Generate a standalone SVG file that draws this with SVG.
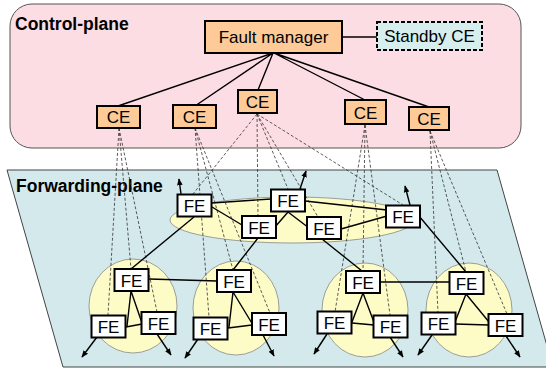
<svg xmlns="http://www.w3.org/2000/svg" width="546" height="370" viewBox="0 0 546 370">
  <defs>
    <marker id="arrow" viewBox="0 0 10 10" refX="9" refY="5" markerWidth="7" markerHeight="7" markerUnits="userSpaceOnUse" orient="auto">
      <path d="M0,1 L10,5 L0,9 z" fill="#000"/>
    </marker>
    <style>
      .plane-label { font-family: "Liberation Sans", Arial, sans-serif; font-weight: bold; font-size: 17.5px; fill: #000; }
      .label { font-family: "Liberation Sans", Arial, sans-serif; font-size: 17px; fill: #000; text-anchor: middle; }
      .ce rect { fill: #fdca98; stroke: #000; stroke-width: 2; }
      .fe rect { fill: #fff; stroke: #000; stroke-width: 2; }
      .zone { fill: #fdfbc6; stroke: #888; stroke-width: 0.8; }
      .link { stroke: #000; stroke-width: 1.4; fill: none; }
      .ctl { stroke: #333; stroke-width: 0.8; stroke-dasharray: 3 2; fill: none; }
      .out { stroke: #000; stroke-width: 1.4; fill: none; marker-end: url(#arrow); }
    </style>
  </defs>

  <!-- planes -->
  <g id="control-plane">
    <rect x="10" y="4" width="511" height="144" rx="22" fill="#fddde4" stroke="#555" stroke-width="1"/>
    <text class="plane-label" x="15" y="29.5">Control-plane</text>
  </g>
  <g id="forwarding-plane">
    <polygon points="7,170 497,170 553,367 63,367" fill="#d3e9ec" stroke="#444" stroke-width="1"/>
    <text class="plane-label" x="16" y="192">Forwarding-plane</text>
  </g>

  <!-- FE groupings -->
  <g id="zones">
    <ellipse class="zone" cx="292" cy="220" rx="122" ry="23"/>
    <ellipse class="zone" cx="133" cy="306" rx="44" ry="47"/>
    <ellipse class="zone" cx="236" cy="308" rx="43" ry="47"/>
    <ellipse class="zone" cx="365" cy="310" rx="43" ry="47"/>
    <ellipse class="zone" cx="469" cy="310" rx="43" ry="47"/>
  </g>

  <g id="connectors">
    <!-- control associations CE -> FE -->
    <path class="ctl" d="M119,128 L131,269 M119,128 L108,315 M119,128 L157,312"/>
    <path class="ctl" d="M195,128 L233,270 M195,128 L209,317 M195,128 L270,313"/>
    <path class="ctl" d="M257,114 L193,194 M257,114 L258,216 M257,114 L288,189 M257,114 L318,217 M257,114 L403,205"/>
    <path class="ctl" d="M365,125 L363,271 M365,125 L335,312 M365,125 L390,315"/>
    <path class="ctl" d="M430,131 L466,272 M430,131 L438,313 M430,131 L507,314"/>

    <!-- fault manager links -->
    <path class="link" d="M342,37 L377,37"/>
    <path class="link" d="M273,53 L118,106 M273,53 L195,106 M273,53 L258,90 M274,53 L365,100 M274,53 L429,107"/>

    <!-- central ring -->
    <path class="link" d="M212,203 L271,199 M212,207 L242,225 M288,212 L275,227 M288,212 L309,228 M305,201 L387,210 M341,229 L387,216"/>
    <!-- ring to clusters -->
    <path class="link" d="M194,217 L131,269 M258,238 L233,270 M322,239 L362,271 M419,216 L466,272"/>
    <!-- cluster internals -->
    <path class="link" d="M131,291 L127,326 M131,291 L142,323 M126,327 L142,324 M149,279 L217,281"/>
    <path class="link" d="M233,292 L229,327 M233,292 L253,325 M228,328 L252,325"/>
    <path class="link" d="M363,293 L352,322 M363,293 L375,325 M352,323 L374,325 M380,282 L450,282"/>
    <path class="link" d="M466,294 L455,322 M466,294 L489,322 M455,324 L489,325"/>

    <!-- external ports -->
    <path class="out" d="M181,194 L179,179"/>
    <path class="out" d="M300,189 L306,171"/>
    <path class="out" d="M410,205 L405,186"/>
    <path class="out" d="M97,337 L82,357"/>
    <path class="out" d="M157,334 L171,355"/>
    <path class="out" d="M198,339 L185,358"/>
    <path class="out" d="M263,335 L274,356"/>
    <path class="out" d="M327,334 L314,354"/>
    <path class="out" d="M390,337 L403,357"/>
    <path class="out" d="M432,335 L418,355"/>
    <path class="out" d="M506,336 L520,357"/>
  </g>

  <!-- control elements -->
  <g id="fault-manager" class="ce">
    <rect x="205" y="21" width="137" height="32"/>
    <text class="label" x="273.5" y="43">Fault manager</text>
  </g>
  <g id="standby-ce">
    <rect x="377" y="22" width="105" height="28" fill="#d6eeee" stroke="#000" stroke-width="2" stroke-dasharray="4 2"/>
    <text class="label" x="429.5" y="42">Standby CE</text>
  </g>
  <g id="ce1" class="ce"><rect x="97" y="106" width="43" height="22"/><text class="label" x="118.5" y="123">CE</text></g>
  <g id="ce2" class="ce"><rect x="173" y="105" width="43" height="23"/><text class="label" x="194.5" y="123">CE</text></g>
  <g id="ce3" class="ce"><rect x="238" y="90" width="39" height="23"/><text class="label" x="257.5" y="108">CE</text></g>
  <g id="ce4" class="ce"><rect x="345" y="100" width="41" height="24"/><text class="label" x="365.5" y="118.5">CE</text></g>
  <g id="ce5" class="ce"><rect x="409" y="107" width="40" height="23"/><text class="label" x="429" y="125">CE</text></g>

  <!-- forwarding elements: central ring -->
  <g id="fe-r1" class="fe"><rect x="177.5" y="194.5" width="34" height="22"/><text class="label" x="194.5" y="212">FE</text></g>
  <g id="fe-r2" class="fe"><rect x="271" y="189.5" width="34" height="22"/><text class="label" x="288" y="207">FE</text></g>
  <g id="fe-r3" class="fe"><rect x="242" y="216" width="34" height="22"/><text class="label" x="259" y="233.5">FE</text></g>
  <g id="fe-r4" class="fe"><rect x="307" y="217" width="34" height="22"/><text class="label" x="324" y="234.5">FE</text></g>
  <g id="fe-r5" class="fe"><rect x="386" y="205.5" width="34" height="22"/><text class="label" x="403" y="223">FE</text></g>

  <!-- forwarding elements: cluster 1 -->
  <g id="fe-a1" class="fe"><rect x="114.5" y="269" width="34" height="22"/><text class="label" x="131.5" y="286.5">FE</text></g>
  <g id="fe-a2" class="fe"><rect x="91.5" y="315.5" width="34" height="22"/><text class="label" x="108.5" y="333">FE</text></g>
  <g id="fe-a3" class="fe"><rect x="141.5" y="312" width="34" height="22"/><text class="label" x="158.5" y="329.5">FE</text></g>
  <!-- cluster 2 -->
  <g id="fe-b1" class="fe"><rect x="217" y="270" width="34" height="22"/><text class="label" x="234" y="287.5">FE</text></g>
  <g id="fe-b2" class="fe"><rect x="193.5" y="317.5" width="34" height="22"/><text class="label" x="210.5" y="335">FE</text></g>
  <g id="fe-b3" class="fe"><rect x="252" y="313" width="34" height="22"/><text class="label" x="269" y="330.5">FE</text></g>
  <!-- cluster 3 -->
  <g id="fe-c1" class="fe"><rect x="346" y="271" width="34" height="22"/><text class="label" x="363" y="288.5">FE</text></g>
  <g id="fe-c2" class="fe"><rect x="317.5" y="311.5" width="34" height="22"/><text class="label" x="334.5" y="329">FE</text></g>
  <g id="fe-c3" class="fe"><rect x="373.5" y="315.5" width="34" height="22"/><text class="label" x="390.5" y="333">FE</text></g>
  <!-- cluster 4 -->
  <g id="fe-d1" class="fe"><rect x="449.5" y="272" width="34" height="22"/><text class="label" x="466.5" y="289.5">FE</text></g>
  <g id="fe-d2" class="fe"><rect x="421.5" y="312.5" width="34" height="22"/><text class="label" x="438.5" y="330">FE</text></g>
  <g id="fe-d3" class="fe"><rect x="488.5" y="314" width="34" height="22"/><text class="label" x="505.5" y="331.5">FE</text></g>
</svg>
